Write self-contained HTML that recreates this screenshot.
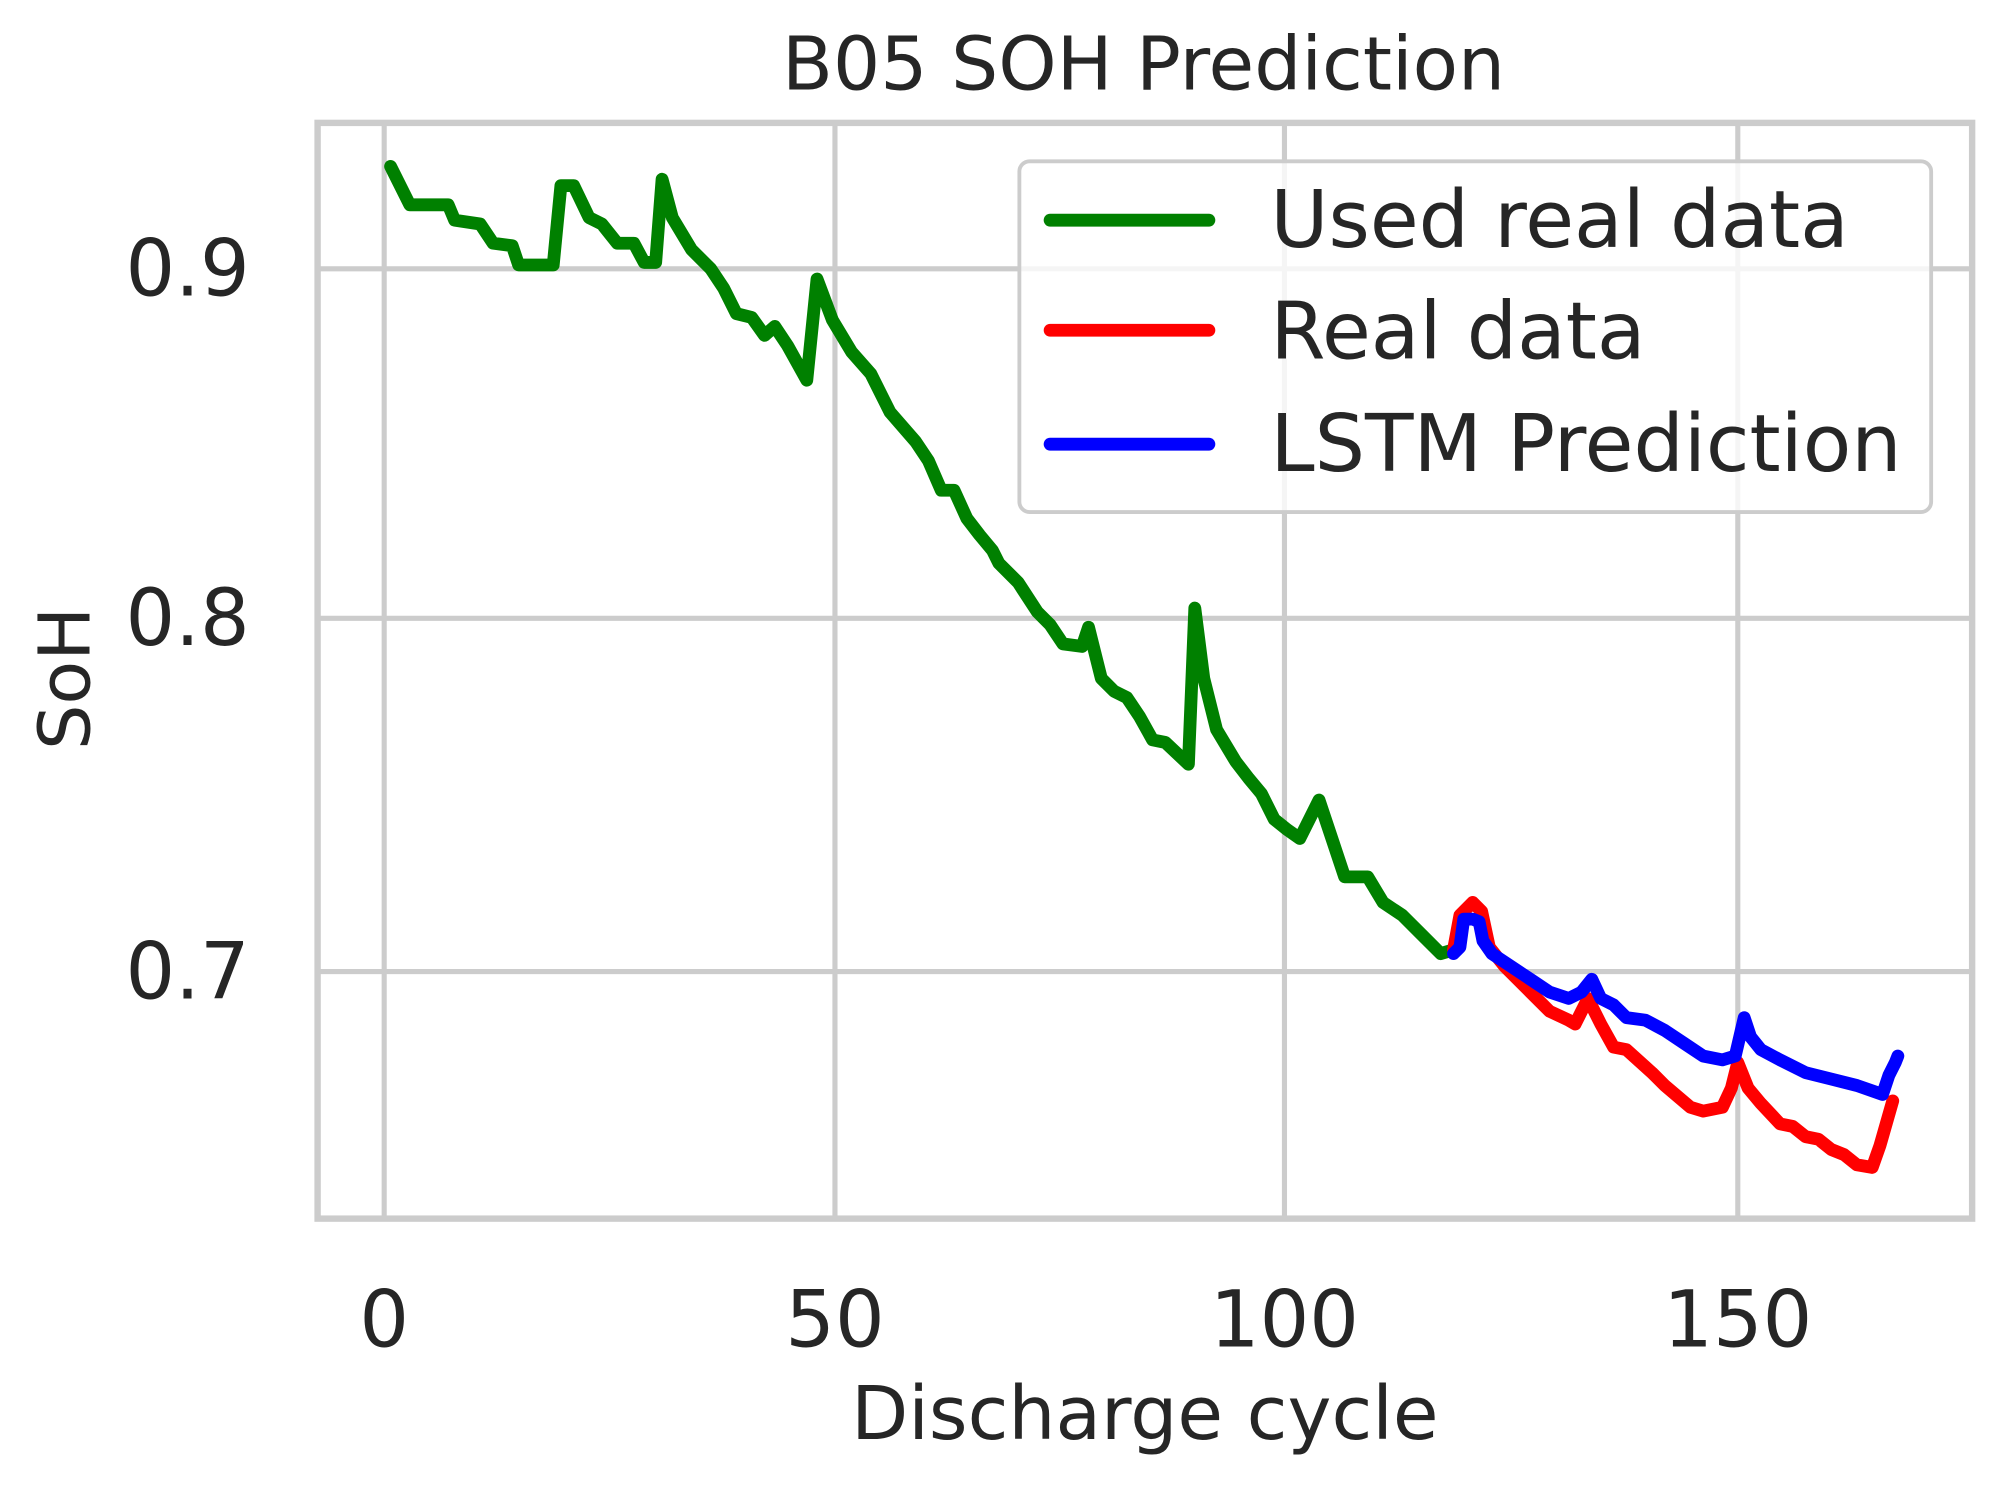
<!DOCTYPE html>
<html><head><meta charset="utf-8"><style>html,body{margin:0;padding:0;background:#fff;}svg{display:block;}</style></head>
<body>
<svg width="2008" height="1490" viewBox="0 0 1568 1164" preserveAspectRatio="none" xmlns="http://www.w3.org/2000/svg" font-family="'DejaVu Sans','Liberation Sans',sans-serif" fill="#262626">
<rect width="1568" height="1164" fill="#fff"/>
<g stroke="#cccccc" stroke-width="4" fill="none">
<line x1="300" y1="95" x2="300" y2="952"/>
<line x1="652" y1="95" x2="652" y2="952"/>
<line x1="1003" y1="95" x2="1003" y2="952"/>
<line x1="1357" y1="95" x2="1357" y2="952"/>
<line x1="248" y1="210" x2="1540" y2="210"/>
<line x1="248" y1="483" x2="1540" y2="483"/>
<line x1="248" y1="759" x2="1540" y2="759"/>
<rect x="248" y="96" width="1292" height="856" stroke-width="5"/>
</g>
<g fill="none" stroke-width="10" stroke-linejoin="round" stroke-linecap="round">
<polyline stroke="#008000" points="305,130 320,160 335,160 350,160 355,172 375,175 385,190 400,192 405,207 432,207 438,145 448,145 460,170 470,175 482,190 495,190 503,205 512,205 517,140 525,170 540,195 555,210 565,225 575,245 587,248 597,262 605,255 615,270 630,297 638,218 650,250 665,275 680,292 695,322 715,345 725,360 735,383 745,383 755,405 765,418 775,430 780,440 795,455 810,478 820,488 830,503 845,505 850,490 860,530 870,540 880,545 890,560 900,578 910,580 928,597 933,475 940,530 950,570 965,595 975,608 985,620 995,640 1005,648 1015,655 1030,625 1040,655 1050,685 1060,685 1068,685 1080,705 1095,715 1110,730 1125,745 1135,742"/>
<polyline stroke="#ff0000" points="1135,742 1140,715 1150,705 1157,712 1163,740 1175,755 1195,775 1210,790 1225,797 1230,800 1240,780 1250,800 1260,818 1270,820 1290,838 1300,848 1320,865 1330,868 1345,865 1352,850 1357,830 1365,850 1375,862 1390,878 1400,880 1410,888 1420,890 1430,898 1440,902 1450,910 1462,912 1468,895 1478,860"/>
<polyline stroke="#0000ff" points="1135,745 1140,740 1143,718 1150,718 1155,720 1158,735 1165,745 1180,755 1195,765 1210,775 1225,780 1235,775 1243,765 1250,780 1260,785 1270,795 1285,797 1300,805 1315,815 1330,825 1345,828 1355,825 1362,795 1367,810 1375,820 1390,828 1410,838 1430,843 1450,848 1470,855 1475,840 1480,830 1482,825"/>
</g>
<rect x="796" y="126" width="712" height="274" rx="8" fill="#fff" fill-opacity="0.8" stroke="#cccccc" stroke-width="3"/>
<g stroke-width="10" stroke-linecap="round">
<line x1="820" y1="172" x2="944" y2="172" stroke="#008000"/>
<line x1="820" y1="258" x2="944" y2="258" stroke="#ff0000"/>
<line x1="820" y1="347" x2="944" y2="347" stroke="#0000ff"/>
</g>
<g font-size="62">
<text x="992" y="193">Used real data</text>
<text x="992" y="280">Real data</text>
<text x="992" y="368">LSTM Prediction</text>
</g>
<text x="893" y="70" font-size="58" text-anchor="middle">B05 SOH Prediction</text>
<g font-size="61" text-anchor="end">
<text x="195" y="231">0.9</text>
<text x="195" y="504">0.8</text>
<text x="195" y="780">0.7</text>
</g>
<g font-size="61" text-anchor="middle">
<text x="300" y="1052">0</text>
<text x="652" y="1052">50</text>
<text x="1003" y="1052">100</text>
<text x="1357" y="1052">150</text>
</g>
<text x="894" y="1124" font-size="58" text-anchor="middle">Discharge cycle</text>
<text transform="translate(70,530) rotate(-90)" font-size="56" text-anchor="middle">SoH</text>
</svg>
</body></html>
